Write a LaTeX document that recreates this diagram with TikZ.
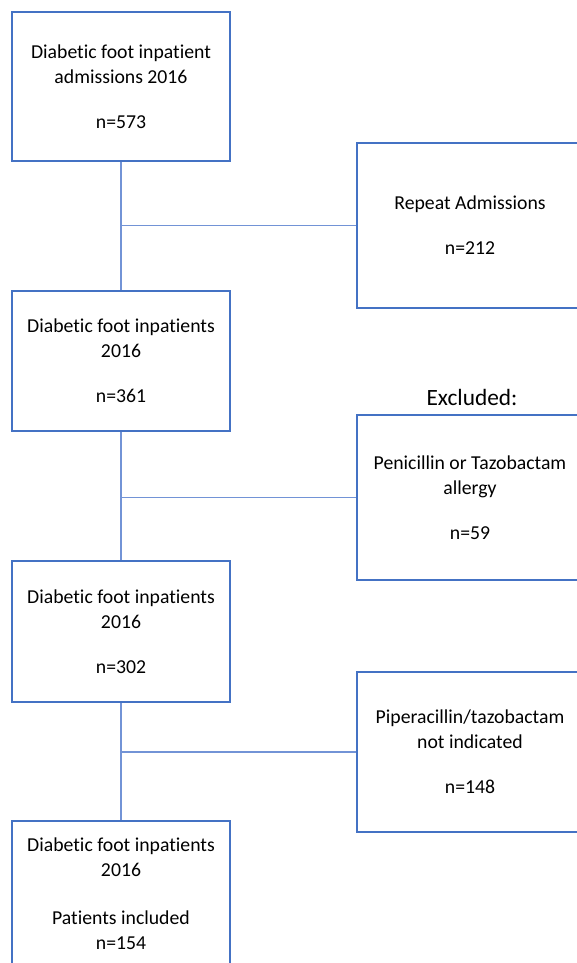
\documentclass[tikz,border=0pt]{standalone}
\usepackage{fontspec}
\setmainfont{Carlito}[Ligatures={NoCommon,NoDiscretionary}]
\definecolor{boxblue}{RGB}{68,114,196}
\definecolor{lineblue}{RGB}{114,147,214}
\tikzset{every picture/.style={line width=0.75pt}}
\tikzset{
  flowbox/.style={draw=boxblue, line width=1pt, inner sep=0pt, align=center,
    font=\fontsize{14.8}{18.75}\selectfont, text=black},
  leftbox/.style={flowbox, minimum width=163.5pt},
  rightbox/.style={flowbox, minimum width=169.5pt},
  link/.style={draw=lineblue, line width=1.4pt}
}

\begin{document}
\begin{tikzpicture}[x=0.75pt,y=0.75pt,yscale=-1,xscale=1]
\useasboundingbox (0,0) rectangle (577,963);

%Shape: Rectangle [id:b1] 
\node [leftbox, minimum height=111.75pt] (b1) at (121,86.5) {Diabetic foot inpatient\\admissions 2016\\[15pt]n=573};
%Shape: Rectangle [id:b2] 
\node [leftbox, minimum height=105pt] (b2) at (121,361) {Diabetic foot inpatients\\2016\\[15pt]n=361};
%Shape: Rectangle [id:b3] 
\node [leftbox, minimum height=105.75pt] (b3) at (121,631.5) {Diabetic foot inpatients\\2016\\[15pt]n=302};
%Shape: Rectangle [id:b4] 
\node [leftbox, minimum height=108.75pt] (b4) at (121,893.5) {Diabetic foot inpatients\\2016\\[17pt]Patients included\\n=154};

%Shape: Rectangle [id:r1] 
\node [rightbox, minimum height=123.75pt] (r1) at (470,225.5) {Repeat Admissions\\[15pt]n=212};
%Shape: Rectangle [id:r2] 
\node [rightbox, minimum height=123.75pt] (r2) at (470,497.5) {Penicillin or Tazobactam\\allergy\\[15pt]n=59};
%Shape: Rectangle [id:r3] 
\node [rightbox, minimum height=120pt] (r3) at (470,752) {Piperacillin/tazobactam\\not indicated\\[15pt]n=148};

% Text Node
\node [font=\fontsize{17.5}{21}\selectfont, inner sep=0.75pt] (exlabel) at (472,397) {Excluded:};

%Straight Lines 
\coordinate (j1) at (b1.south |- r1.west);
\coordinate (j2) at (b2.south |- r2.west);
\coordinate (j3) at (b3.south |- r3.west);
\draw [link] (b1.south) -- (b2.north);
\draw [link] (b2.south) -- (b3.north);
\draw [link] (b3.south) -- (b4.north);
\draw [link] (j1) -- (r1.west);
\draw [link] (j2) -- (r2.west);
\draw [link] (j3) -- (r3.west);
\end{tikzpicture}
\end{document}
